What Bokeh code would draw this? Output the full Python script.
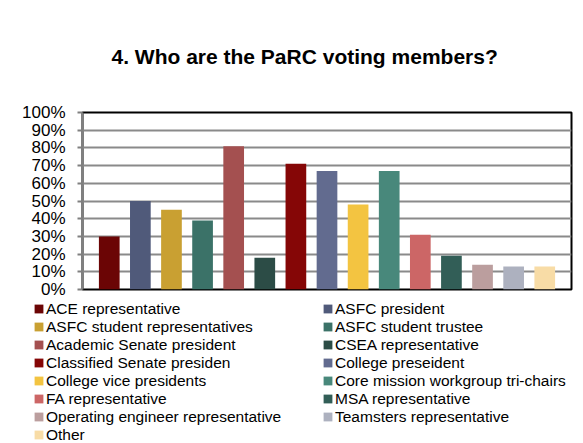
from bokeh.plotting import figure
from bokeh.layouts import column
from bokeh.models import (ColumnDataSource, Legend, LegendItem, NumeralTickFormatter,
                          FixedTicker, Range1d)
from bokeh.embed import file_html
from bokeh.resources import INLINE

# ---- data ----
categories = [
    "ACE representative",
    "ASFC president",
    "ASFC student representatives",
    "ASFC student trustee",
    "Academic Senate president",
    "CSEA representative",
    "Classified Senate presiden",
    "College preseident",
    "College vice presidents",
    "Core mission workgroup tri-chairs",
    "FA representative",
    "MSA representative",
    "Operating engineer representative",
    "Teamsters representative",
    "Other",
]
values = [0.30, 0.50, 0.45, 0.39, 0.81, 0.18, 0.71, 0.67, 0.48, 0.67, 0.31, 0.19, 0.14, 0.13, 0.13]
colors = [
    "#6b0505", "#505a7a", "#c9a032", "#3b7268", "#a45050",
    "#2c4c46", "#850606", "#626b8f", "#f3c441", "#48887b",
    "#cc6666", "#325e57", "#bb9e9e", "#adb1bf", "#f8dca6",
]
y_ticks = [0.0, 0.1, 0.2, 0.3, 0.4, 0.5, 0.6, 0.7, 0.8, 0.9, 1.0]
title_text = "4. Who are the PaRC voting members?"

FONT = "Liberation Sans"
positions = list(range(len(categories)))

# ---------------- main chart ----------------
p = figure(width=583, height=300, output_backend="svg", toolbar_location=None,
           x_range=Range1d(-0.86, 14.86), y_range=Range1d(0, 1),
           min_border_left=82, min_border_right=12, min_border_top=112,
           min_border_bottom=11)
p.frame_align = False

p.title.text = title_text
p.title.text_font = FONT
p.title.text_font_size = "21px"
p.title.text_font_style = "bold"
p.title.text_color = "#000000"
p.title.align = "left"
p.title.vertical_align = "top"
p.title.offset = 29
p.title.standoff = 85

p.background_fill_color = "white"
p.border_fill_color = "white"
p.outline_line_color = "#000000"
p.outline_line_width = 2

src = ColumnDataSource(dict(x=positions, top=values, color=colors, label=categories))
p.vbar(x="x", top="top", width=0.665, bottom=0, source=src,
       fill_color="color", line_color=None)

p.xaxis.visible = False
p.xgrid.visible = False

yaxis = p.yaxis[0]
yaxis.ticker = FixedTicker(ticks=y_ticks)
yaxis.formatter = NumeralTickFormatter(format="0%")
yaxis.major_label_text_font = FONT
yaxis.major_label_text_font_size = "17px"
yaxis.major_label_text_color = "#000000"
yaxis.axis_line_color = "#808080"
yaxis.axis_line_width = 2
yaxis.major_tick_line_color = "#808080"
yaxis.major_tick_line_width = 2
yaxis.major_tick_in = 0
yaxis.major_tick_out = 5
yaxis.minor_tick_line_color = None
yaxis.major_label_standoff = 12

p.ygrid.grid_line_color = "#8a8a8a"
p.ygrid.grid_line_width = 2
p.ygrid.ticker = FixedTicker(ticks=y_ticks)

# ---------------- legend panel ----------------
q = figure(width=583, height=143, output_backend="svg", toolbar_location=None,
           x_range=Range1d(0, 1), y_range=Range1d(0, 1),
           min_border_left=0, min_border_right=0, min_border_top=0,
           min_border_bottom=0)
q.frame_align = False
q.xaxis.visible = False
q.yaxis.visible = False
q.grid.visible = False
q.outline_line_color = None
q.background_fill_color = "white"
q.border_fill_color = "white"

items = []
for cat, col in zip(categories, colors):
    r = q.vbar(x=[-10], top=[0], width=0.5, fill_color=col, line_color=None)
    items.append(LegendItem(label=cat, renderers=[r]))

legend = Legend(items=items, orientation="horizontal", ncols=2,
                location=(33, -0.8),
                label_text_font=FONT, label_text_font_size="15.5px",
                label_text_color="#000000",
                glyph_width=11, glyph_height=11, label_standoff=2,
                label_width=276, label_height=17, spacing=0,
                padding=0, margin=0,
                border_line_color=None, background_fill_alpha=0)
q.add_layout(legend, "center")

layout = column(p, q, spacing=0)
open("out.html", "w").write(file_html(layout, INLINE))
